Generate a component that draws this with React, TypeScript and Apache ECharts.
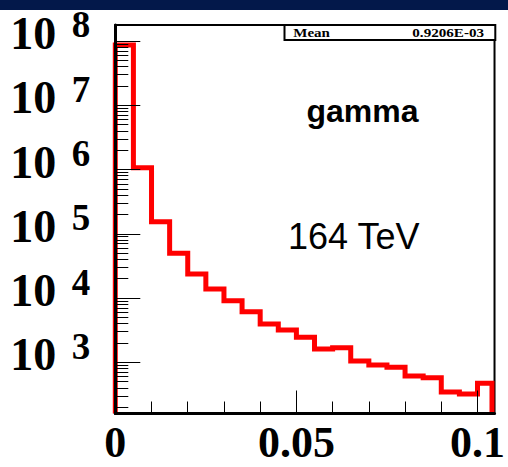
import React, { useEffect, useRef } from "react";
import * as echarts from "echarts";

// Left edges of the histogram bins (x) and the right edge of the last bin
const BIN_LEFT = [
  0, 0.005, 0.01, 0.015, 0.02, 0.025, 0.03, 0.035, 0.04, 0.045, 0.05,
  0.055, 0.06, 0.065, 0.07, 0.075, 0.08, 0.085, 0.09, 0.095, 0.1,
];
const LAST_EDGE = 0.104;

// Entries per bin
const COUNTS = [
  8.67e7, 1.06e6, 1.54e5, 4.97e4, 2.37e4, 1.38e4, 9100, 6130, 3940, 3180, 2450,
  1610, 1690, 1050, 907, 836, 612, 576, 345, 321, 471,
];

// Axis ranges
const X_MIN = 0;
const X_MAX = 0.1047;
const Y_MIN = 160;
const Y_MAX = 1.77e8;

// Tick labels
const X_LABELS = [0, 0.05, 0.1];
const X_MINOR = [0.01, 0.02, 0.03, 0.04, 0.06, 0.07, 0.08, 0.09];
const Y_DECADES = [3, 4, 5, 6, 7, 8];

const STAT_NAME = "Mean";
const STAT_VALUE = "0.9206E-03";
const TITLE = "gamma";
const ENERGY = "164 TeV";

const SERIF = "'Liberation Serif', 'Times New Roman', serif";
const SANS = "'Liberation Sans', Arial, sans-serif";

export default function App() {
  const ref = useRef<HTMLDivElement>(null);

  useEffect(() => {
    if (!ref.current) return;
    const chart = echarts.init(ref.current, null, { renderer: "svg" });

    const lg = (v: number) => Math.log10(v);
    const logMin = lg(Y_MIN);
    const logMax = lg(Y_MAX);

    // histogram outline in log10 space, drawn as a step line
    const pts: number[][] = [[BIN_LEFT[0], logMin]];
    BIN_LEFT.forEach((x, i) => pts.push([x, lg(COUNTS[i])]));
    pts.push([LAST_EDGE, lg(COUNTS[COUNTS.length - 1])]);
    pts.push([LAST_EDGE, logMin]);

    // minor log ticks at 2..9 x 10^n
    const yMinor: number[] = [];
    for (let n = 2; n <= 8; n++) {
      for (let k = 2; k <= 9; k++) {
        const v = lg(k * Math.pow(10, n));
        if (v >= logMin && v <= logMax) yMinor.push(v);
      }
    }

    const tickLine = { color: "#000", width: 1 };
    const serifBold = {
      fontFamily: SERIF,
      fontWeight: "bold" as const,
      color: "#000",
    };

    chart.setOption({
      animation: false,
      backgroundColor: "#fff",
      grid: {
        left: 115.3,
        right: 12.7,
        top: 25,
        bottom: 53.5,
        show: true,
        borderColor: "#000",
        borderWidth: 2,
        backgroundColor: "transparent",
      },
      xAxis: [
        {
          type: "value",
          min: X_MIN,
          max: X_MAX,
          position: "bottom",
          z: 5,
          axisLine: { show: true, lineStyle: { color: "#000", width: 3 } },
          axisTick: {
            show: true,
            inside: true,
            length: 23,
            customValues: X_LABELS,
            lineStyle: tickLine,
          },
          axisLabel: {
            ...serifBold,
            customValues: X_LABELS,
            formatter: (v: number) => String(v),
            fontSize: 44,
            lineHeight: 40,
            margin: 9,
            showMinLabel: true,
            showMaxLabel: true,
          },
          splitLine: { show: false },
        },
        {
          type: "value",
          min: X_MIN,
          max: X_MAX,
          position: "bottom",
          z: 5,
          axisLine: { show: false },
          axisTick: {
            show: true,
            inside: true,
            length: 12,
            customValues: X_MINOR,
            lineStyle: tickLine,
          },
          axisLabel: { show: false },
          splitLine: { show: false },
        },
      ],
      yAxis: [
        {
          // decades: long ticks and the "10" mantissa
          type: "value",
          min: logMin,
          max: logMax,
          position: "left",
          z: 5,
          axisLine: { show: true, lineStyle: { color: "#000", width: 3 } },
          axisTick: {
            show: true,
            inside: true,
            length: 25,
            customValues: Y_DECADES,
            lineStyle: tickLine,
          },
          axisLabel: {
            ...serifBold,
            customValues: Y_DECADES,
            formatter: () => "10",
            fontSize: 46,
            lineHeight: 15,
            verticalAlign: "bottom",
            margin: 59,
            showMinLabel: true,
            showMaxLabel: true,
          },
          splitLine: { show: false },
        },
        {
          // minor ticks and the decade exponents
          type: "value",
          min: logMin,
          max: logMax,
          position: "left",
          z: 5,
          axisLine: { show: false },
          axisTick: {
            show: true,
            inside: true,
            length: 13,
            customValues: yMinor,
            lineStyle: tickLine,
          },
          axisLabel: {
            ...serifBold,
            customValues: Y_DECADES,
            formatter: (v: number) => String(Math.round(v)),
            fontSize: 37,
            lineHeight: 32,
            verticalAlign: "bottom",
            margin: 25,
            showMinLabel: true,
            showMaxLabel: true,
          },
          splitLine: { show: false },
        },
      ],
      series: [
        {
          type: "line",
          xAxisIndex: 0,
          yAxisIndex: 0,
          step: "end",
          data: pts,
          showSymbol: false,
          symbol: "none",
          clip: false,
          z: 1,
          lineStyle: { color: "#ff0000", width: 5, join: "miter", cap: "butt" },
        },
      ],
      graphic: [
        {
          type: "rect",
          shape: { x: 0, y: 0, width: 508, height: 10 },
          style: { fill: "#03184a" },
          z: 10,
        },
        {
          type: "rect",
          shape: { x: 284.5, y: 25, width: 210.8, height: 15 },
          style: { fill: "#fff", stroke: "#000", lineWidth: 2 },
          z: 10,
        },
        {
          type: "text",
          x: 293.3,
          y: 33,
          scaleX: 1.25,
          z: 11,
          style: {
            text: STAT_NAME,
            font: `bold 12px ${SERIF}`,
            fill: "#000",
            align: "left",
            verticalAlign: "middle",
          },
        },
        {
          type: "text",
          x: 484,
          y: 33,
          scaleX: 1.26,
          z: 11,
          style: {
            text: STAT_VALUE,
            font: `bold 12px ${SERIF}`,
            fill: "#000",
            align: "right",
            verticalAlign: "middle",
          },
        },
        {
          type: "text",
          x: 306.5,
          y: 111,
          z: 11,
          style: {
            text: TITLE,
            font: `bold 32px ${SANS}`,
            fill: "#000",
            align: "left",
            verticalAlign: "middle",
          },
        },
        {
          type: "text",
          x: 288,
          y: 236.5,
          z: 11,
          style: {
            text: ENERGY,
            font: `36px ${SANS}`,
            fill: "#000",
            align: "left",
            verticalAlign: "middle",
          },
        },
      ],
    });

    return () => chart.dispose();
  }, []);

  return (
    <div
      ref={ref}
      style={{ position: "fixed", left: 0, top: 0, width: 508, height: 467 }}
    />
  );
}
